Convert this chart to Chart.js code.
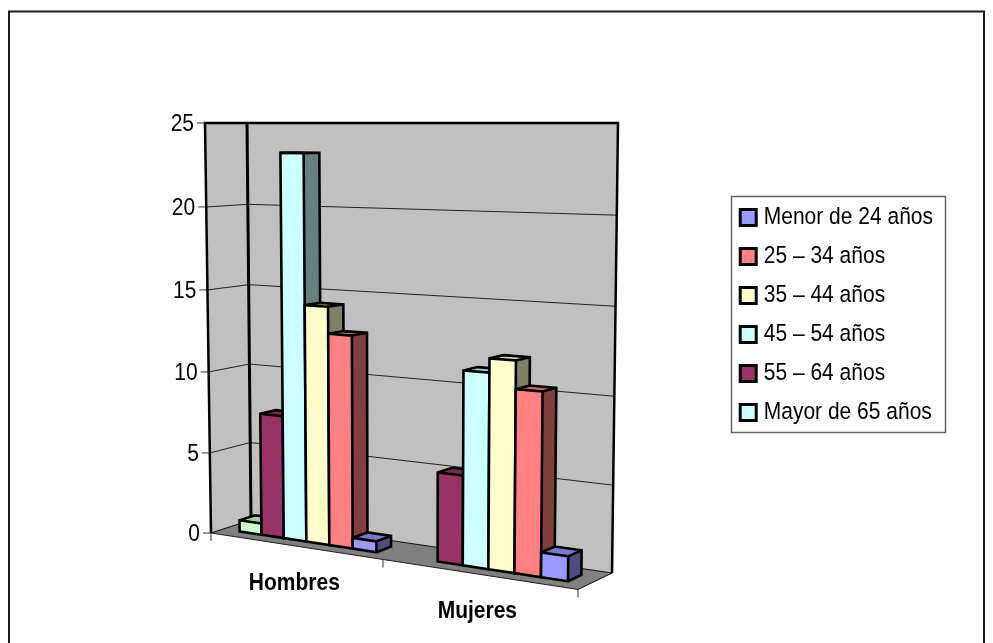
<!DOCTYPE html>
<html>
<head>
<meta charset="utf-8">
<style>
  html, body { margin: 0; padding: 0; background: #fff; overflow: hidden; }
  canvas { display: block; }
</style>
<script src="https://cdn.jsdelivr.net/npm/chart.js@4"></script>
</head>
<body>
<canvas id="chart" width="993" height="643"></canvas>
<script>
const categories = ["Hombres", "Mujeres"];

// left to right in the picture; the legend lists them the other way round
const seriesNames = ["Mayor de 65 años", "55 – 64 años", "45 – 54 años", "35 – 44 años", "25 – 34 años", "Menor de 24 años"];
const legendColors = ["#CCFFFF", "#993366", "#CCFFFF", "#FFFFCC", "#FF8080", "#9999FF"];
const barColors = ["#CCFFCC", "#993366", "#CCFFFF", "#FFFFCC", "#FF8080", "#9999FF"];
const mayor65 = [0.7, 0];
const de55a64 = [7.5, 5.2];
const de45a54 = [23.25, 11.2];
const de35a44 = [14.3, 12];
const de25a34 = [12.7, 10.4];
const menor24 = [0.65, 1.4];
const seriesValues = [mayor65, de55a64, de45a54, de35a44, de25a34, menor24];

const FONT = '"Liberation Sans", Arial, sans-serif';
const TEXT_STRETCH = 1.18; // the original text is taller than it is wide

// corners of the 3d box on the page: [front left, front right, back left, back right]
const floorCorners = [[211, 533], [578, 589.5], [251, 520], [612, 573]];
const topCorners = [[205, 123], [583, 123], [247, 123], [618, 123]];
const PERSPECTIVE = 1.134; // middle of the floor sits left of the centre
const HEIGHT_BEND = 0.03; // equal steps get a little shorter towards the floor
const BAR_FRONT = 0.31, BAR_BACK = 0.7; // depth of the bars in the box

function lerp(a, b, t) { return a + (b - a) * t; }

function project(u, v, w) {
  const s = u / (u + PERSPECTIVE * (1 - u));
  const h = v - HEIGHT_BEND * v * (1 - v);
  const pick = (c, i) => lerp(lerp(c[0][i], c[1][i], s), lerp(c[2][i], c[3][i], s), w);
  return [lerp(pick(floorCorners, 0), pick(topCorners, 0), h), lerp(pick(floorCorners, 1), pick(topCorners, 1), h)];
}

function shade(hex, f) {
  const n = parseInt(hex.slice(1), 16);
  return "rgb(" + Math.round((n >> 16) * f) + "," + Math.round(((n >> 8) & 255) * f) + "," + Math.round((n & 255) * f) + ")";
}

function poly(ctx, pts, fill, stroke, lw) {
  ctx.beginPath();
  pts.forEach((p, i) => (i ? ctx.lineTo(p[0], p[1]) : ctx.moveTo(p[0], p[1])));
  if (fill) {
    ctx.closePath();
    ctx.fillStyle = fill;
    ctx.fill();
  }
  if (stroke) {
    ctx.strokeStyle = stroke;
    ctx.lineWidth = lw;
    ctx.stroke();
  }
}

const box3d = {
  id: "box3d",
  beforeDatasetsDraw(chart) {
    const ctx = chart.ctx;
    const area = chart.chartArea;
    const yScale = chart.scales.y;
    const xScale = chart.scales.x;
    const toV = (px) => (area.bottom - px) / (area.bottom - area.top);
    const toU = (px) => (px - area.left) / (area.right - area.left);

    ctx.save();
    ctx.lineJoin = "miter";

    // outer frame, runs off the bottom of the page
    ctx.strokeStyle = "#1a1a1a";
    ctx.lineWidth = 2;
    ctx.strokeRect(9, 11.5, 975, 700);

    // walls and floor
    poly(ctx, [project(0, 0, 0), project(0, 1, 0), project(0, 1, 1), project(0, 0, 1)], "#C0C0C0");
    poly(ctx, [project(0, 0, 1), project(0, 1, 1), project(1, 1, 1), project(1, 0, 1)], "#C0C0C0");
    poly(ctx, [project(0, 0, 0), project(1, 0, 0), project(1, 0, 1), project(0, 0, 1)], "#808080");

    // gridlines, tick marks and value labels
    ctx.font = "21px " + FONT;
    ctx.textAlign = "right";
    ctx.textBaseline = "middle";
    yScale.ticks.forEach((t) => {
      const v = toV(yScale.getPixelForValue(t.value));
      const a = project(0, v, 0);
      if (t.value > 0 && t.value < 25) {
        poly(ctx, [a, project(0, v, 1), project(1, v, 1)], null, "#222", 1);
      }
      poly(ctx, [[a[0] - 8, a[1]], a], null, "#333", 1);
      ctx.fillStyle = "#000";
      ctx.fillText(String(t.value), a[0] - 11, a[1] + 1);
    });

    // box edges
    poly(ctx, [project(0, 0, 0), project(1, 0, 0), project(1, 0, 1)], null, "#222", 1.2);
    poly(ctx, [project(0, 0, 0), project(0, 0, 1), project(1, 0, 1)], null, "#111", 1.2);
    poly(ctx, [project(0, 0, 0), project(0, 1, 0), project(0, 1, 1), project(1, 1, 1), project(1, 0, 1)], null, "#000", 2.5);
    poly(ctx, [project(0, 1, 1), project(0, 0, 1)], null, "#000", 3);

    // category ticks and labels
    [0, 0.5, 1].forEach((u) => {
      const a = project(u, 0, 0);
      poly(ctx, [a, [a[0], a[1] + 8]], null, "#333", 1);
    });
    ctx.font = "bold 21px " + FONT;
    ctx.textAlign = "center";
    ctx.fillStyle = "#000";
    categories.forEach((name, i) => {
      const a = project(toU(xScale.getPixelForValue(i)), 0, 0);
      ctx.fillText(name, a[0], a[1] + 37);
    });

    // bars, left to right so each one covers the side of the one before
    categories.forEach((name, i) => {
      chart.data.datasets.forEach((ds, d) => {
        if (!ds.data[i]) return;
        const bar = chart.getDatasetMeta(d).data[i];
        const u0 = toU(bar.x - bar.width / 2);
        const u1 = toU(bar.x + bar.width / 2);
        const v = toV(bar.y);
        const color = barColors[d];
        const edge = "#000";
        poly(ctx, [project(u1, 0, BAR_FRONT), project(u1, 0, BAR_BACK), project(u1, v, BAR_BACK), project(u1, v, BAR_FRONT)], shade(color, 0.5));
        poly(ctx, [project(u0, v, BAR_FRONT), project(u1, v, BAR_FRONT), project(u1, v, BAR_BACK), project(u0, v, BAR_BACK)], shade(color, 0.8));
        poly(ctx, [project(u0, 0, BAR_FRONT), project(u1, 0, BAR_FRONT), project(u1, v, BAR_FRONT), project(u0, v, BAR_FRONT)], color);
        poly(ctx, [project(u1, 0, BAR_FRONT), project(u1, 0, BAR_BACK), project(u1, v, BAR_BACK), project(u0, v, BAR_BACK), project(u0, v, BAR_FRONT), project(u0, 0, BAR_FRONT), project(u1, 0, BAR_FRONT), project(u1, v, BAR_FRONT), project(u1, v, BAR_BACK)], null, edge, 2.6);
        poly(ctx, [project(u0, v, BAR_FRONT), project(u1, v, BAR_FRONT)], null, edge, 2.6);
      });
    });
    ctx.restore();

    // legend frame
    ctx.strokeStyle = "#666";
    ctx.lineWidth = 1.5;
    ctx.strokeRect(731.5, 196.5, 214, 236);
    return false; // the bars above replace the flat ones
  },
};

// stretch all chart text upward, legend included
const chartCtx = document.getElementById("chart").getContext("2d");
const plainFillText = chartCtx.fillText.bind(chartCtx);
chartCtx.fillText = function (text, x, y, maxWidth) {
  chartCtx.save();
  chartCtx.translate(x, y);
  chartCtx.scale(1, TEXT_STRETCH);
  plainFillText(text, 0, 0, maxWidth);
  chartCtx.restore();
};

new Chart(chartCtx, {
  type: "bar",
  data: {
    labels: categories,
    datasets: seriesNames.map((name, i) => ({
      label: name,
      data: seriesValues[i],
      backgroundColor: legendColors[i],
      borderColor: "#000",
      borderWidth: 3,
      categoryPercentage: 0.8,
      barPercentage: 1,
    })),
  },
  options: {
    responsive: false,
    animation: false,
    devicePixelRatio: 1,
    layout: { padding: { bottom: 13, right: 50 } },
    scales: {
      x: { display: false },
      y: { display: false, min: 0, max: 25, ticks: { stepSize: 5 } },
    },
    plugins: {
      tooltip: { enabled: false },
      legend: {
        position: "right",
        reverse: true,
        labels: {
          usePointStyle: true,
          pointStyle: "rect",
          boxWidth: 10,
          boxHeight: 16,
          padding: 18,
          color: "#000",
          font: { family: FONT, size: 21 },
        },
      },
    },
  },
  plugins: [box3d],
});
</script>
</body>
</html>
